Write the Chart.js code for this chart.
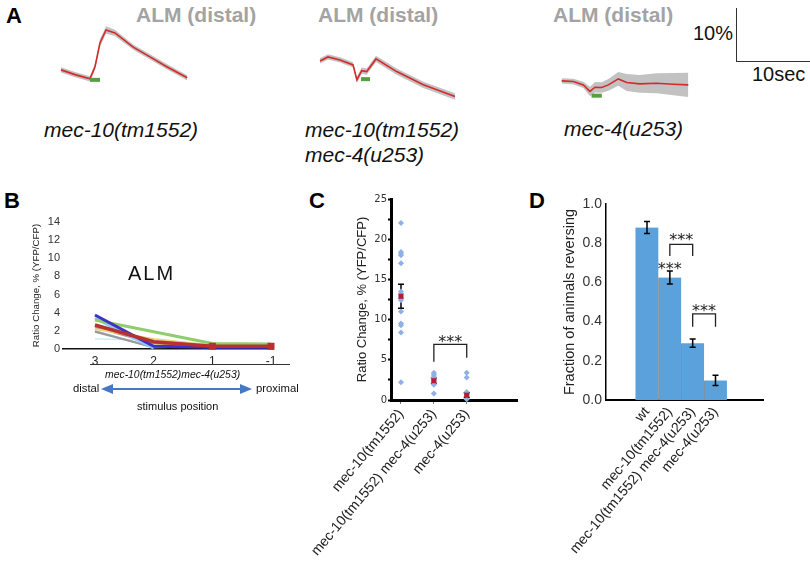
<!DOCTYPE html>
<html>
<head>
<meta charset="utf-8">
<script src="https://cdn.jsdelivr.net/npm/chart.js@4.4.1/dist/chart.umd.min.js"></script>
<style>
  body { margin:0; width:810px; height:562px; position:relative; background:#fff; overflow:hidden;
         font-family:"Liberation Sans", Arial, sans-serif; color:#111; }
  .t { position:absolute; line-height:1; white-space:nowrap; }
  .panel { font-weight:bold; font-size:22px; color:#000; }
  .alm { font-weight:bold; font-size:21px; color:#a3a3a3; }
  .geno { font-style:italic; font-size:21px; color:#111; }
  canvas { position:absolute; }
</style>
</head>
<body>

<div class="t panel" style="left:6px;top:5px">A</div>
<div class="t panel" style="left:4px;top:190px">B</div>
<div class="t panel" style="left:309px;top:190px">C</div>
<div class="t panel" style="left:529px;top:190px">D</div>

<div class="t alm" style="left:136px;top:4px">ALM (distal)</div>
<div class="t alm" style="left:318px;top:4px">ALM (distal)</div>
<div class="t alm" style="left:553px;top:4px">ALM (distal)</div>

<div class="t geno" style="left:44px;top:119px">mec-10(tm1552)</div>
<div class="t geno" style="left:305px;top:118px;line-height:24.6px">mec-10(tm1552)<br>mec-4(u253)</div>
<div class="t geno" style="left:564px;top:118px">mec-4(u253)</div>

<div class="t" style="left:693px;top:23px;font-size:20px">10%</div>
<div class="t" style="left:752px;top:64px;font-size:20px">10sec</div>
<div style="position:absolute;left:736px;top:8px;width:74px;height:53px;border-left:1.5px solid #333;border-bottom:1.5px solid #333"></div>

<canvas id="tr1" width="146" height="74" style="left:58px;top:26px"></canvas>
<canvas id="tr2" width="146" height="74" style="left:316px;top:27px"></canvas>
<canvas id="tr3" width="146" height="74" style="left:558px;top:37px"></canvas>

<canvas id="chartB" width="300" height="180" style="left:0;top:200px"></canvas>
<canvas id="chartC" width="240" height="377" style="left:300px;top:185px"></canvas>
<canvas id="chartD" width="280" height="372" style="left:530px;top:190px"></canvas>

<div class="t" style="left:128px;top:263px;font-size:20px;letter-spacing:2px">ALM</div>
<div style="position:absolute;left:90px;top:364px;width:200px;border-top:1px solid #333"></div>
<div class="t" style="left:105px;top:369.5px;font-size:10.4px;font-style:italic">mec-10(tm1552)mec-4(u253)</div>
<div class="t" style="left:73px;top:383px;font-size:11.3px">distal</div>
<div class="t" style="left:256px;top:383px;font-size:11.3px">proximal</div>
<div class="t" style="left:137px;top:401px;font-size:11px">stimulus position</div>
<svg style="position:absolute;left:95px;top:380px" width="165" height="20">
  <line x1="16" y1="9" x2="147" y2="9" stroke="#4678c8" stroke-width="2"/>
  <polygon points="6,9 18,4 18,14" fill="#4678c8"/>
  <polygon points="157,9 145,4 145,14" fill="#4678c8"/>
</svg>

<script>
// ---- Panel A: calcium traces (time in s, ratio change in %) ----
var t1 = [0.41, 2.33, 4.38, 5.07, 5.75, 6.58, 7.8, 10.3, 12.6, 14.9, 17.7];
var v1 = [1.7, 0.8, 0, 2.3, 6.8, 9.25, 8.7, 6.0, 4.15, 2.3, 0.2];
var s1 = [0.5, 0.5, 0.5, 0.6, 0.7, 0.7, 0.6, 0.5, 0.5, 0.5, 0.5];
var stim1 = [4.38, 5.75], stimY1 = -0.19;

var t2 = [0.55, 1.64, 3.29, 5.07, 5.6, 6.26, 6.95, 8.22, 11.05, 14.7, 19.04];
var v2 = [3.58, 4.34, 3.77, 2.83, 0, 1.75, 1.57, 3.96, 1.57, -0.94, -3.15];
var s2 = [0.5, 0.5, 0.5, 0.5, 0.6, 0.6, 0.6, 0.6, 0.6, 0.6, 0.6];
var stim2 = [6.16, 7.4], stimY2 = 0.13;

var t3 = [0.5, 2.1, 3.47, 4.38, 5.07, 5.98, 6.9, 8.26, 9.4, 11.2, 13.5, 15.8, 17.85];
var v3 = [1.7, 1.57, 0.94, -0.3, 0.5, 0.44, 0.94, 2.07, 1.38, 1.13, 1.26, 1.07, 0.94];
var s3 = [0.5, 0.55, 0.6, 0.9, 1.0, 1.0, 1.1, 1.3, 1.6, 1.7, 1.9, 2.1, 2.3];
var stim3 = [4.6, 6.0], stimY3 = -1.1;

// ---- Panel B ----
var bCats = ['3', '2', '1', '-1'];
var bRed = [2.65, 0.8, 0.3, 0.3];
var bBlue = [3.75, 0.3, 0.2, 0.2];
var bGreen = [3.2, 1.9, 0.6, 0.55];
var bLightBlue = [3.4, 0.1, null, null];
var bYellow = [2.2, 1.1, 0.4, 0.4];
var bTan = [2.4, 0.6, 0.3, 0.3];
var bGray = [1.9, 0.2, 0.3, 0.3];
var bLavender = [2.0, 0.15, null, null];
var bCyan = [1.1, 1.0, 0.5, 0.5];

// ---- Panel C ----
var cCats = ['mec-10(tm1552)', 'mec-10(tm1552) mec-4(u253)', 'mec-4(u253)'];
var cPts1 = [22.0, 18.4, 18.2, 18.0, 17.0, 13.5, 13.2, 12.6, 12.4, 11.0, 9.5, 9.3, 8.4, 2.2];
var cPts2 = [3.4, 3.2, 3.0, 2.8, 2.6, 2.4, 2.1, 1.9, 0.8];
var cPts3 = [3.4, 2.8, 1.0, 0.7, 0.1];
var cMeans = [12.9, 2.4, 0.6];
var cErr = [1.5, 0.35, 0.3];

// ---- Panel D ----
var dCats = ['wt', 'mec-10(tm1552)', 'mec-10(tm1552) mec-4(u253)', 'mec-4(u253)'];
var dVals = [0.88, 0.625, 0.29, 0.10];
var dErr = [0.031, 0.033, 0.021, 0.026];

function xy(xs, ys) { return xs.map(function (x, i) { return { x: x, y: ys[i] }; }); }

var base = {
  responsive: false, animation: false, devicePixelRatio: 1, events: [],
  plugins: { legend: { display: false }, tooltip: { enabled: false } }
};
function opts(extra) { return Object.assign({}, base, extra); }

function traceChart(id, t, v, s, stim, stimY) {
  var up = t.map(function (x, i) { return { x: x, y: v[i] + s[i] }; });
  var lo = t.map(function (x, i) { return { x: x, y: v[i] - s[i] }; });
  new Chart(document.getElementById(id), {
    type: 'line',
    data: { datasets: [
      { data: xy(stim, [stimY, stimY]), borderColor: '#55a040', borderWidth: 4, borderCapStyle: 'butt', pointRadius: 0 },
      { data: xy(t, v), borderColor: '#d42a2a', borderWidth: 1.6, pointRadius: 0 },
      { data: up, borderColor: 'rgba(0,0,0,0)', backgroundColor: '#c2c2c2', fill: '+1', pointRadius: 0 },
      { data: lo, borderColor: 'rgba(0,0,0,0)', fill: false, pointRadius: 0 }
    ] },
    options: opts({
      layout: { padding: 0 },
      scales: { x: { type: 'linear', min: 0, max: 20, display: false }, y: { min: -4, max: 10, display: false } }
    })
  });
}
traceChart('tr1', t1, v1, s1, stim1, stimY1);
traceChart('tr2', t2, v2, s2, stim2, stimY2);
traceChart('tr3', t3, v3, s3, stim3, stimY3);

// ---- B ----
function bLine(vals, color, w) {
  return { data: vals.map(function (v, i) { return { x: i, y: v }; }), borderColor: color, borderWidth: w,
           pointRadius: 0, tension: 0, clip: false };
}
var redLine = bLine(bRed, '#b83030', 3.5);
redLine.pointRadius = [0, 0, 2.5, 2.5];
redLine.pointStyle = 'rect';
redLine.pointBackgroundColor = '#b83030';
new Chart(document.getElementById('chartB'), {
  type: 'line',
  data: { datasets: [
    redLine,
    bLine(bBlue, '#3d30cc', 3),
    bLine(bGreen, '#8fce6a', 3),
    bLine(bLightBlue, '#8ecbee', 3),
    bLine(bYellow, '#e6d67c', 2),
    bLine(bTan, '#b89870', 2),
    bLine(bGray, '#9a9a9a', 2),
    bLine(bLavender, '#a8b4e8', 2),
    bLine(bCyan, '#c8eef2', 1.5)
  ] },
  options: opts({
    layout: { padding: { left: 31, top: 22, right: 27, bottom: 0 } },
    scales: {
      x: { type: 'linear', min: -0.545, max: 3.034,
           afterBuildTicks: function (s) { s.ticks = bCats.map(function (c, i) { return { value: i }; }); },
           afterFit: function (s) { s.height = 31; s.paddingLeft = 0; s.paddingRight = 0; },
           ticks: { callback: function (v) { return bCats[v]; }, font: { size: 12, family: 'Liberation Sans' }, color: '#222', padding: 5, maxRotation: 0 },
           grid: { display: false, drawTicks: false },
           border: { display: true, color: '#111', width: 1.5 } },
      y: { min: 0, max: 14, ticks: { stepSize: 2, font: { size: 11, family: 'Liberation Sans' }, color: '#333', padding: 3 },
           afterFit: function (s) { s.width = 32; },
           grid: { display: false, drawTicks: false }, border: { display: false },
           title: { display: true, text: 'Ratio Change, % (YFP/CFP)', font: { size: 9.7, family: 'Liberation Sans' }, color: '#222', padding: 0 } }
    }
  })
});

// ---- helpers for error bars, brackets, stars ----
function drawErrBars(chart, bars) {
  var ctx = chart.ctx, sx = chart.scales.x, sy = chart.scales.y;
  ctx.save();
  ctx.strokeStyle = '#000'; ctx.lineWidth = 1.5;
  bars.forEach(function (b) {
    var px = sx.getPixelForValue(b.x), t = sy.getPixelForValue(b.y + b.e), d = sy.getPixelForValue(b.y - b.e);
    ctx.beginPath();
    ctx.moveTo(px, t); ctx.lineTo(px, d);
    ctx.moveTo(px - 3, t); ctx.lineTo(px + 3, t);
    ctx.moveTo(px - 3, d); ctx.lineTo(px + 3, d);
    ctx.stroke();
  });
  ctx.restore();
}
function marksPlugin(bars, brackets, stars, barsUnder) {
  return {
    id: 'marks',
    beforeDatasetsDraw: function (chart) { if (barsUnder) drawErrBars(chart, bars); },
    afterDatasetsDraw: function (chart) {
      if (!barsUnder) drawErrBars(chart, bars);
      var ctx = chart.ctx, sx = chart.scales.x, sy = chart.scales.y;
      ctx.save();
      ctx.strokeStyle = '#222'; ctx.lineWidth = 1.3;
      brackets.forEach(function (k) {
        var x1 = sx.getPixelForValue(k.x1), x2 = sx.getPixelForValue(k.x2), top = sy.getPixelForValue(k.top);
        ctx.beginPath();
        ctx.moveTo(x1, sy.getPixelForValue(k.l1)); ctx.lineTo(x1, top); ctx.lineTo(x2, top); ctx.lineTo(x2, sy.getPixelForValue(k.l2));
        ctx.stroke();
      });
      ctx.fillStyle = '#222'; ctx.font = '16px "DejaVu Sans"'; ctx.textAlign = 'center'; ctx.textBaseline = 'alphabetic';
      stars.forEach(function (s) {
        ctx.fillText('***', sx.getPixelForValue(s.x), sy.getPixelForValue(s.y) + 9.4);
      });
      ctx.restore();
    }
  };
}

// ---- C ----
function cPoints(vals, x) { return vals.map(function (v) { return { x: x, y: v }; }); }
new Chart(document.getElementById('chartC'), {
  type: 'scatter',
  data: { datasets: [
    { data: cMeans.map(function (m, i) { return { x: i + 1, y: m }; }), pointStyle: 'rect', pointRadius: 3.6,
      backgroundColor: '#b21f30', borderColor: '#b21f30', borderWidth: 0, clip: false },
    { data: cPoints(cPts1, 1).concat(cPoints(cPts2, 2), cPoints(cPts3, 3)), pointStyle: 'rectRot', pointRadius: 3,
      backgroundColor: '#8eb0e4', borderColor: '#8eb0e4', borderWidth: 0, clip: false }
  ] },
  options: opts({
    layout: { padding: { left: 55, top: 14, right: 23, bottom: 0 } },
    scales: {
      x: { type: 'linear', min: 0.696, max: 4.53,
           afterBuildTicks: function (s) { s.ticks = cCats.map(function (c, i) { return { value: i + 1 }; }); },
           afterFit: function (s) { s.height = 162; s.paddingLeft = 0; s.paddingRight = 0; },
           ticks: { callback: function (v) { return cCats[v - 1]; }, minRotation: 50, maxRotation: 50, autoSkip: false,
                    font: { size: 14, family: 'Liberation Sans' }, color: '#222', padding: 2 },
           grid: { display: true, drawOnChartArea: false, tickLength: 4, tickColor: '#777', tickWidth: 1 },
           border: { display: true, color: '#000', width: 3 } },
      y: { min: 0, max: 25,
           ticks: { stepSize: 2.5, callback: function (v) { return v % 5 === 0 ? v : ''; },
                    font: { size: 10, family: 'DejaVu Sans' }, color: '#333', padding: 1 },
           afterFit: function (s) { s.width = 36; },
           grid: { display: true, drawOnChartArea: false, tickLength: 3, tickColor: '#000', tickWidth: 2 },
           border: { display: true, color: '#000', width: 3 },
           title: { display: true, text: 'Ratio Change, % (YFP/CFP)', font: { size: 13, family: 'Liberation Sans' }, color: '#222', padding: 0 } }
    }
  }),
  plugins: [marksPlugin(
    cMeans.map(function (m, i) { return { x: i + 1, y: m, e: cErr[i] }; }),
    [{ x1: 2, x2: 3, top: 6.93, l1: 4.76, l2: 5.26 }],
    [{ x: 2.5, y: 7.7 }],
    true
  )]
});

// ---- D ----
new Chart(document.getElementById('chartD'), {
  type: 'bar',
  data: { datasets: [
    { data: dVals.map(function (v, i) { return { x: i, y: v }; }), backgroundColor: '#5ba2dc',
      borderColor: ['#5ba2dc', '#8090a0', '#8090a0', '#8090a0'], borderWidth: { left: 1.2, right: 0, top: 0, bottom: 0 },
      borderSkipped: false, categoryPercentage: 1, barPercentage: 1 }
  ] },
  options: opts({
    layout: { padding: { left: 31, top: 14, right: 47, bottom: 0 } },
    scales: {
      x: { type: 'linear', min: -1.796, max: 5.08, offset: false,
           afterBuildTicks: function (s) { s.ticks = dCats.map(function (c, i) { return { value: i }; }); },
           afterFit: function (s) { s.height = 162; s.paddingLeft = 0; s.paddingRight = 0; },
           ticks: { callback: function (v) { return dCats[v]; }, minRotation: 50, maxRotation: 50, autoSkip: false,
                    font: { size: 14, family: 'Liberation Sans' }, color: '#222', padding: 4 },
           grid: { display: false, drawTicks: false },
           border: { display: true, color: '#000', width: 2 } },
      y: { min: 0, max: 1,
           ticks: { stepSize: 0.2, callback: function (v) { return v.toFixed(1); },
                    font: { size: 14, family: 'Liberation Sans' }, color: '#333', padding: 4 },
           afterFit: function (s) { s.width = 45; },
           grid: { display: false, drawTicks: false },
           border: { display: true, color: '#000', width: 1.5 },
           title: { display: true, text: 'Fraction of animals reversing', font: { size: 14.5, family: 'Liberation Sans' }, color: '#222', padding: 0 } }
    }
  }),
  plugins: [marksPlugin(
    dVals.map(function (v, i) { return { x: i, y: v, e: dErr[i] }; }),
    [{ x1: 1, x2: 2, top: 0.794, l1: 0.735, l2: 0.735 }, { x1: 2, x2: 3, top: 0.439, l1: 0.374, l2: 0.374 }],
    [{ x: 1, y: 0.689 }, { x: 1.5, y: 0.837 }, { x: 2.5, y: 0.476 }],
    false
  )]
});
</script>
</body>
</html>
